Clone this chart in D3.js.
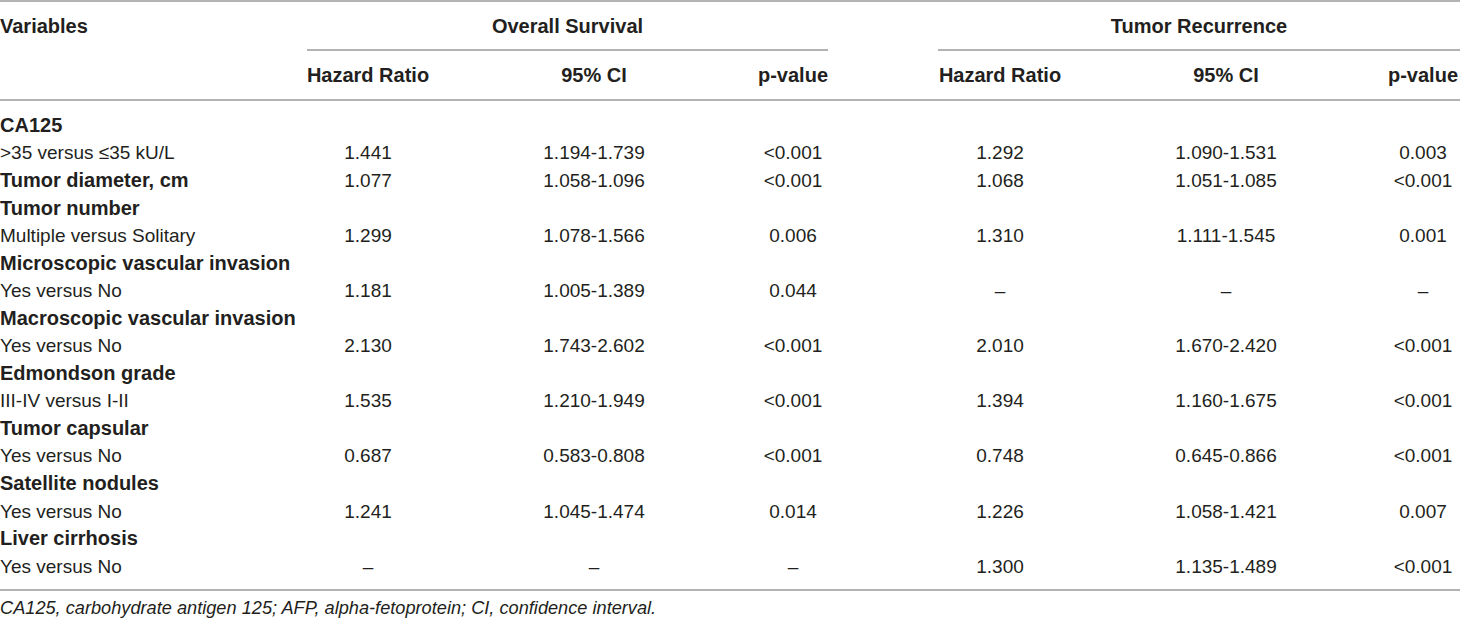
<!DOCTYPE html>
<html lang="en">
<head>
    <meta charset="UTF-8">
    <title>Cox regression table</title>
    <script src="https://cdn.jsdelivr.net/npm/d3@7"></script>
    <style>
        body {
            margin: 0;
            background: white;
        }
        svg {
            display: block;
            font-family: "Liberation Sans", Arial, sans-serif;
        }
        .rule {
            stroke: #9a9a9a;
            stroke-width: 1.5px;
        }
        text {
            fill: #231f20;
            font-size: 19px;
        }
        .bold {
            font-weight: bold;
            font-size: 20px;
        }
        .note {
            font-style: italic;
            font-size: 18.2px;
        }
    </style>
</head>
<body>
    <svg id="canvas" width="1460" height="620"></svg>
    <script>
        // table content
        const groups = ["Overall Survival", "Tumor Recurrence"]
        const columns = ["Hazard Ratio", "95% CI", "p-value"]
        const rowLabels = [
            "CA125", ">35 versus \u226435 kU/L", "Tumor diameter, cm", "Tumor number",
            "Multiple versus Solitary", "Microscopic vascular invasion", "Yes versus No",
            "Macroscopic vascular invasion", "Yes versus No", "Edmondson grade",
            "III-IV versus I-II", "Tumor capsular", "Yes versus No", "Satellite nodules",
            "Yes versus No", "Liver cirrhosis", "Yes versus No"
        ]
        const rowBold = [true, false, true, true, false, true, false, true, false,
            true, false, true, false, true, false, true, false]
        const osHazard = ["", "1.441", "1.077", "", "1.299", "", "1.181", "", "2.130",
            "", "1.535", "", "0.687", "", "1.241", "", "\u2013"]
        const osCI = ["", "1.194-1.739", "1.058-1.096", "", "1.078-1.566", "", "1.005-1.389", "",
            "1.743-2.602", "", "1.210-1.949", "", "0.583-0.808", "", "1.045-1.474", "", "\u2013"]
        const osP = ["", "<0.001", "<0.001", "", "0.006", "", "0.044", "", "<0.001",
            "", "<0.001", "", "<0.001", "", "0.014", "", "\u2013"]
        const trHazard = ["", "1.292", "1.068", "", "1.310", "", "\u2013", "", "2.010",
            "", "1.394", "", "0.748", "", "1.226", "", "1.300"]
        const trCI = ["", "1.090-1.531", "1.051-1.085", "", "1.111-1.545", "", "\u2013", "",
            "1.670-2.420", "", "1.160-1.675", "", "0.645-0.866", "", "1.058-1.421", "", "1.135-1.489"]
        const trP = ["", "0.003", "<0.001", "", "0.001", "", "\u2013", "", "<0.001",
            "", "<0.001", "", "<0.001", "", "0.007", "", "<0.001"]
        const footnote = "CA125, carbohydrate antigen 125; AFP, alpha-fetoprotein; CI, confidence interval."

        const width = 1460
        let svg = d3.select("#canvas")

        // column centres, shared by header labels and values
        const colX = d3.scaleOrdinal()
            .domain(["os0", "os1", "os2", "tr0", "tr1", "tr2"])
            .range([368, 594, 793, 1000, 1226, 1423])
        const groupSpan = d3.scaleOrdinal()
            .domain(groups)
            .range([[307, 828], [938, 1460]])

        const rowY = d3.scalePoint()
            .domain(d3.range(rowLabels.length))
            .range([125, 566])

        // rules
        const hRules = [[0, width, 1], [0, width, 100], [0, width, 590]]
        groups.forEach(g => hRules.push([groupSpan(g)[0], groupSpan(g)[1], 50]))
        svg.append("g").selectAll("line")
            .data(hRules)
            .enter()
            .append("line")
            .attr("class", "rule")
            .attr("x1", d => d[0])
            .attr("x2", d => d[1])
            .attr("y1", d => d[2])
            .attr("y2", d => d[2])

        // header
        let head = svg.append("g")
        head.append("text")
            .attr("class", "bold")
            .attr("x", 0)
            .attr("y", 26)
            .attr("dy", "0.35em")
            .text("Variables")
        head.selectAll(".group")
            .data(groups)
            .enter()
            .append("text")
            .attr("class", "group bold")
            .attr("text-anchor", "middle")
            .attr("x", g => (groupSpan(g)[0] + groupSpan(g)[1]) / 2)
            .attr("y", 26)
            .attr("dy", "0.35em")
            .text(g => g)
        const subHeads = ["os", "tr"].flatMap(p => columns.map((c, i) => ({key: p + i, label: c})))
        head.selectAll(".sub")
            .data(subHeads)
            .enter()
            .append("text")
            .attr("class", "sub bold")
            .attr("text-anchor", "middle")
            .attr("x", d => colX(d.key))
            .attr("y", 75)
            .attr("dy", "0.35em")
            .text(d => d.label)

        // body rows
        const body = svg.append("g")
        body.selectAll(".label")
            .data(rowLabels)
            .enter()
            .append("text")
            .attr("class", (d, i) => rowBold[i] ? "label bold" : "label")
            .attr("x", 0)
            .attr("y", (d, i) => rowY(i))
            .attr("dy", "0.35em")
            .text(d => d)

        const cols = [
            ["os0", osHazard], ["os1", osCI], ["os2", osP],
            ["tr0", trHazard], ["tr1", trCI], ["tr2", trP]
        ]
        const cells = cols.flatMap(([key, vals]) =>
            vals.map((v, i) => ({key: key, row: i, v: v})).filter(c => c.v !== ""))
        body.selectAll(".cell")
            .data(cells)
            .enter()
            .append("text")
            .attr("class", "cell")
            .attr("text-anchor", "middle")
            .attr("x", d => colX(d.key))
            .attr("y", d => rowY(d.row))
            .attr("dy", "0.35em")
            .text(d => d.v)

        // footnote
        svg.append("text")
            .attr("class", "note")
            .attr("x", 0)
            .attr("y", 608)
            .attr("dy", "0.35em")
            .text(footnote)
    </script>
</body>
</html>
